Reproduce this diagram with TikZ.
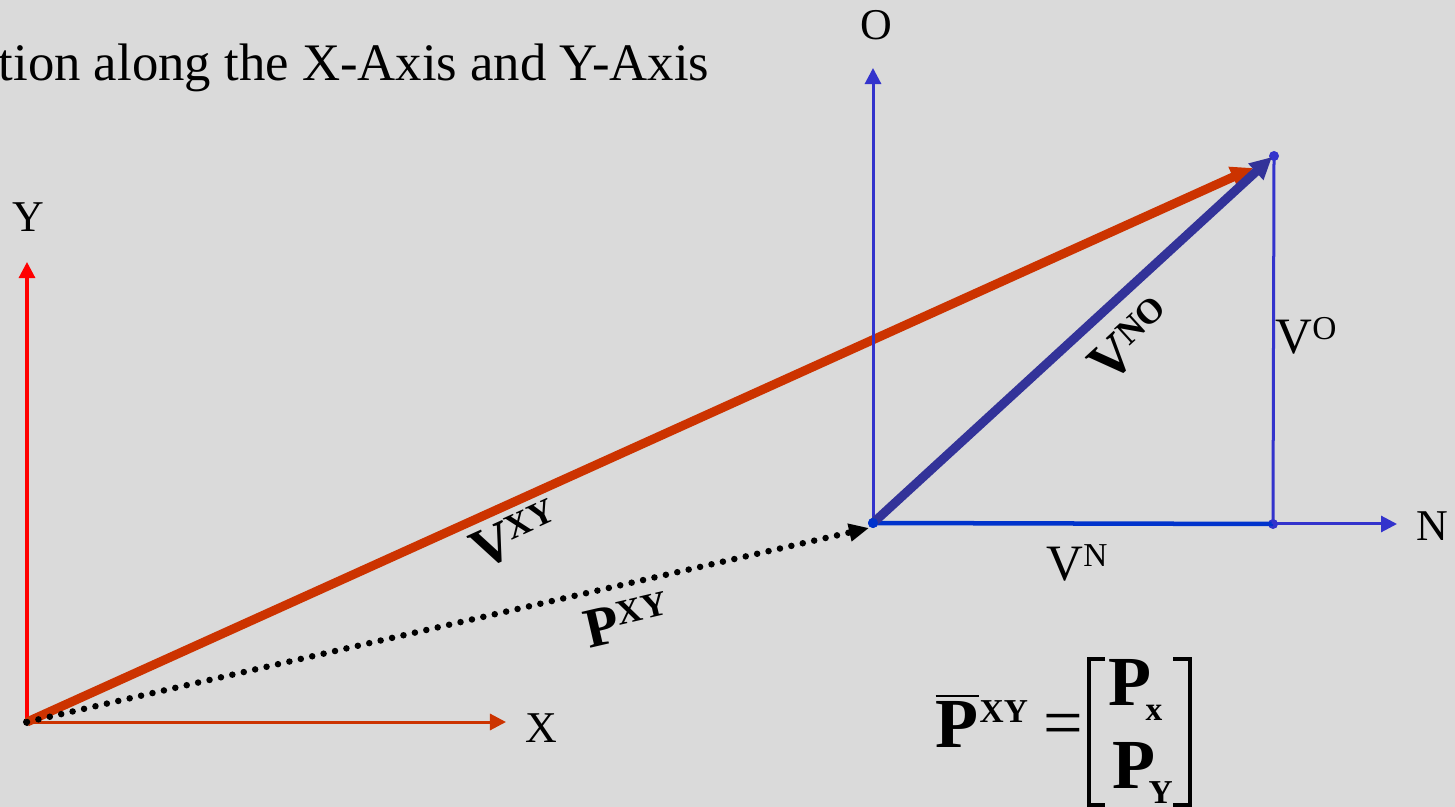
\documentclass[tikz,border=0pt]{standalone}
\usepackage{fontspec}
\setmainfont{Liberation Serif}
\usetikzlibrary{arrows.meta}
\definecolor{bg}{HTML}{DADADA}
\definecolor{axred}{HTML}{FF0000}
\definecolor{vred}{HTML}{CC3300}
\definecolor{axblue}{HTML}{3333CC}
\definecolor{vblue}{HTML}{333399}
\definecolor{baseblue}{HTML}{0033CC}
\newcommand{\fs}[1]{\fontsize{#1}{#1}\selectfont}
% base size, base, sup size, raise, sup
\newcommand{\vsup}[5]{{\fs{#1}#2}\raisebox{#4}{\fs{#3}#5}}
\begin{document}
\begin{tikzpicture}[x=0.01cm, y=-0.01cm,
  axis/.style={line width=0.03cm, -{Triangle[length=0.16cm,width=0.16cm]}},
  vecarrow/.style={line width=0.09cm, -{Triangle[length=0.22cm,width=0.21cm]}},
  dotline/.style={line width=0.065cm, line cap=round, dash pattern=on 0pt off 0.117cm, -{Triangle[length=0.2cm,width=0.17cm]}},
  lbl/.style={inner sep=0pt, font=\fs{12.5}},
  vlbl/.style={inner sep=0pt},
  ptdot/.style={circle, inner sep=0pt, minimum size=0.1cm},
  eq/.style={inner sep=0pt, anchor=base west},
  bracket/.style={line width=0.035cm, line cap=butt}]
\useasboundingbox (0,0) rectangle (1455,807);
\clip (0,0) rectangle (1455,807);
\fill[bg] (0,0) rectangle (1455,807);

% title
\node[inner sep=0pt, anchor=base east, font=\fs{15}] (title) at (710,81) {tion along the X-Axis and Y-Axis};

% XY frame
\node[ptdot, fill=black, minimum size=0.08cm] (oxy) at (27,722) {};
\coordinate (yend) at (27,262);
\coordinate (xend) at (506,722);
\draw[axis, axred] (oxy.center) -- (yend);
\draw[axis, vred] (oxy.center) -- (xend);
\node[lbl] (ylab) at (28,217) {Y};
\node[lbl] (xlab) at (541,728) {X};

% V^XY vector
\coordinate (redtip) at (1253,168);
\draw[vecarrow, vred] (oxy.center) -- (redtip);

% P^XY dotted
\coordinate (ptip) at (869,528);
\draw[dotline, black] (oxy.center) -- (ptip);

% NO frame
\node[ptdot, fill=baseblue] (ono) at (873,523) {};
\node[ptdot, fill=axblue] (pn) at (1273,524) {};
\node[ptdot, fill=axblue] (pv) at (1274,156) {};
\coordinate (oend) at (873,68);
\coordinate (nend) at (1397,524);
\draw[axis, axblue] (ono.center) -- (oend);
\draw[axis, axblue] (pn.center) -- (nend);
\draw[line width=0.045cm, baseblue] (ono.center) -- (pn.center);
\draw[line width=0.03cm, axblue] (pn.center) -- (pv.center);
\node[lbl] (olab) at (876,25) {O};
\node[lbl] (nlab) at (1432,526) {N};

% V^NO vector
\coordinate (bluetip) at (1272,157);
\draw[vecarrow, vblue] (ono.center) -- (bluetip);
\node[ptdot, fill=baseblue] at (ono.center) {};

% vector labels
\node[vlbl, rotate=24.4] (vxy) at (515,535) {\bfseries\vsup{16}{V}{10}{4.3pt}{XY}};
\node[vlbl, rotate=13.1] (pxy) at (627,620) {\bfseries\vsup{16}{P}{10}{4.3pt}{XY}};
\node[vlbl, rotate=42.4] (vno) at (1131,340) {\bfseries\vsup{16}{V}{10}{4.3pt}{NO}};
\node[vlbl] (vo) at (1306,336) {\vsup{14.5}{V}{9.5}{4pt}{O}};
\node[vlbl] (vn) at (1077,563) {\vsup{14.5}{V}{9.5}{3.8pt}{N}};

% equation
\node[eq] (pbar) at (935,747) {\bfseries\fs{20}$\overline{\hbox{\bfseries\fs{20}P}}$};
\node[eq] (pbarsup) at (979,722) {\bfseries\fs{9.5}XY};
\node[eq] (equals) at (1043,746) {\fs{20}=};
\node[eq] (px) at (1108,705) {\bfseries\fs{20}P};
\node[eq] (pxsub) at (1145,720) {\bfseries\fs{9.5}x};
\node[eq] (py) at (1112,788) {\bfseries\fs{20}P};
\node[eq] (pysub) at (1148,803) {\bfseries\fs{9.5}Y};
\draw[bracket] (1105,659) -- (1089,659) -- (1089,805) -- (1105,805);
\draw[bracket] (1173,659) -- (1190,659) -- (1190,805) -- (1173,805);
\end{tikzpicture}
\end{document}
